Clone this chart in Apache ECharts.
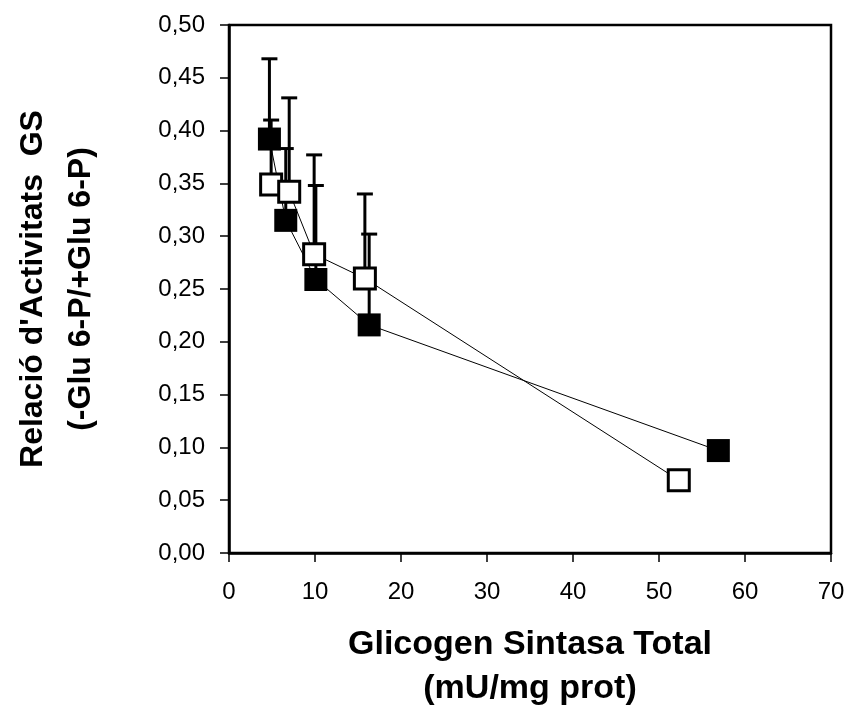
<!DOCTYPE html>
<html>
<head>
<meta charset="utf-8">
<script src="https://cdn.jsdelivr.net/npm/echarts@6/dist/echarts.min.js"></script>
<style>
  html, body { margin: 0; padding: 0; background: #fff; }
  #chart { width: 852px; height: 711px; }
</style>
</head>
<body>
<div id="chart"></div>
<script>
// filled squares
const solidX = [4.7, 6.6, 10.1, 16.3, 56.9]
const solidY = [0.392, 0.315, 0.259, 0.216, 0.097]
const solidTop = [0.468, 0.383, 0.348, 0.302, null]
// open squares
const openX = [4.9, 7.0, 9.9, 15.8, 52.3]
const openY = [0.349, 0.342, 0.283, 0.260, 0.069]
const openTop = [0.410, 0.431, 0.377, 0.340, null]

const xTitle = 'Glicogen Sintasa Total\n(mU/mg prot)'
const yTitle = "Relació d'Activitats  GS\n(-Glu 6-P/+Glu 6-P)"

const font = "'Liberation Sans', Arial, sans-serif"

function pairs(xs, ys) {
  return xs.map((x, i) => [x, ys[i]])
}
function errRows(xs, ys, tops) {
  const rows = []
  xs.forEach((x, i) => {
    if (tops[i] != null) rows.push([x, ys[i], tops[i]])
  })
  return rows
}

function renderErr(params, api) {
  const base = api.coord([api.value(0), api.value(1)])
  const top = api.coord([api.value(0), api.value(2)])
  const half = 8
  const style = { stroke: '#000', lineWidth: 3 }
  return {
    type: 'group',
    children: [
      { type: 'line', shape: { x1: base[0], y1: base[1], x2: top[0], y2: top[1] }, style },
      { type: 'line', shape: { x1: top[0] - half, y1: top[1], x2: top[0] + half, y2: top[1] }, style }
    ]
  }
}

const chart = echarts.init(document.getElementById('chart'))
chart.setOption({
  animation: false,
  textStyle: { fontFamily: font, color: '#000' },
  grid: {
    left: 229, right: 21, top: 25, bottom: 158,
    outerBoundsMode: 'none',
    show: true, borderColor: '#000', borderWidth: 2.5, backgroundColor: 'transparent'
  },
  xAxis: {
    type: 'value', min: 0, max: 70, interval: 10,
    axisLine: { show: true, lineStyle: { color: '#000', width: 2.5 } },
    axisTick: { show: true, length: 9, lineStyle: { color: '#000', width: 1.5 } },
    axisLabel: { color: '#000', fontSize: 24, margin: 27, fontFamily: font },
    splitLine: { show: false },
    name: xTitle,
    nameLocation: 'middle',
    nameGap: 70,
    nameTextStyle: { fontSize: 34, fontWeight: 'bold', lineHeight: 44, color: '#000', fontFamily: font }
  },
  yAxis: {
    type: 'value', min: 0, max: 0.5, interval: 0.05,
    axisLine: { show: true, lineStyle: { color: '#000', width: 2.5 } },
    axisTick: { show: true, length: 9, lineStyle: { color: '#000', width: 1.5 } },
    axisLabel: {
      color: '#000', fontSize: 24, margin: 24, fontFamily: font,
      formatter: v => v.toFixed(2).replace('.', ',')
    },
    splitLine: { show: false },
    name: yTitle,
    nameLocation: 'middle',
    nameGap: 124,
    nameRotate: 90,
    nameTextStyle: { fontSize: 32, fontWeight: 'bold', lineHeight: 48, color: '#000', fontFamily: font }
  },
  series: [
    {
      type: 'custom', renderItem: renderErr, z: 1,
      data: errRows(solidX, solidY, solidTop)
    },
    {
      type: 'custom', renderItem: renderErr, z: 1,
      data: errRows(openX, openY, openTop)
    },
    {
      type: 'line', z: 2,
      data: pairs(solidX, solidY),
      symbol: 'rect', symbolSize: 23,
      lineStyle: { color: '#000', width: 1 },
      itemStyle: { color: '#000', borderColor: '#000', borderWidth: 0 }
    },
    {
      type: 'line', z: 3,
      data: pairs(openX, openY),
      symbol: 'rect', symbolSize: 21,
      lineStyle: { color: '#000', width: 1 },
      itemStyle: { color: '#fff', borderColor: '#000', borderWidth: 3 }
    }
  ]
})
</script>
</body>
</html>
